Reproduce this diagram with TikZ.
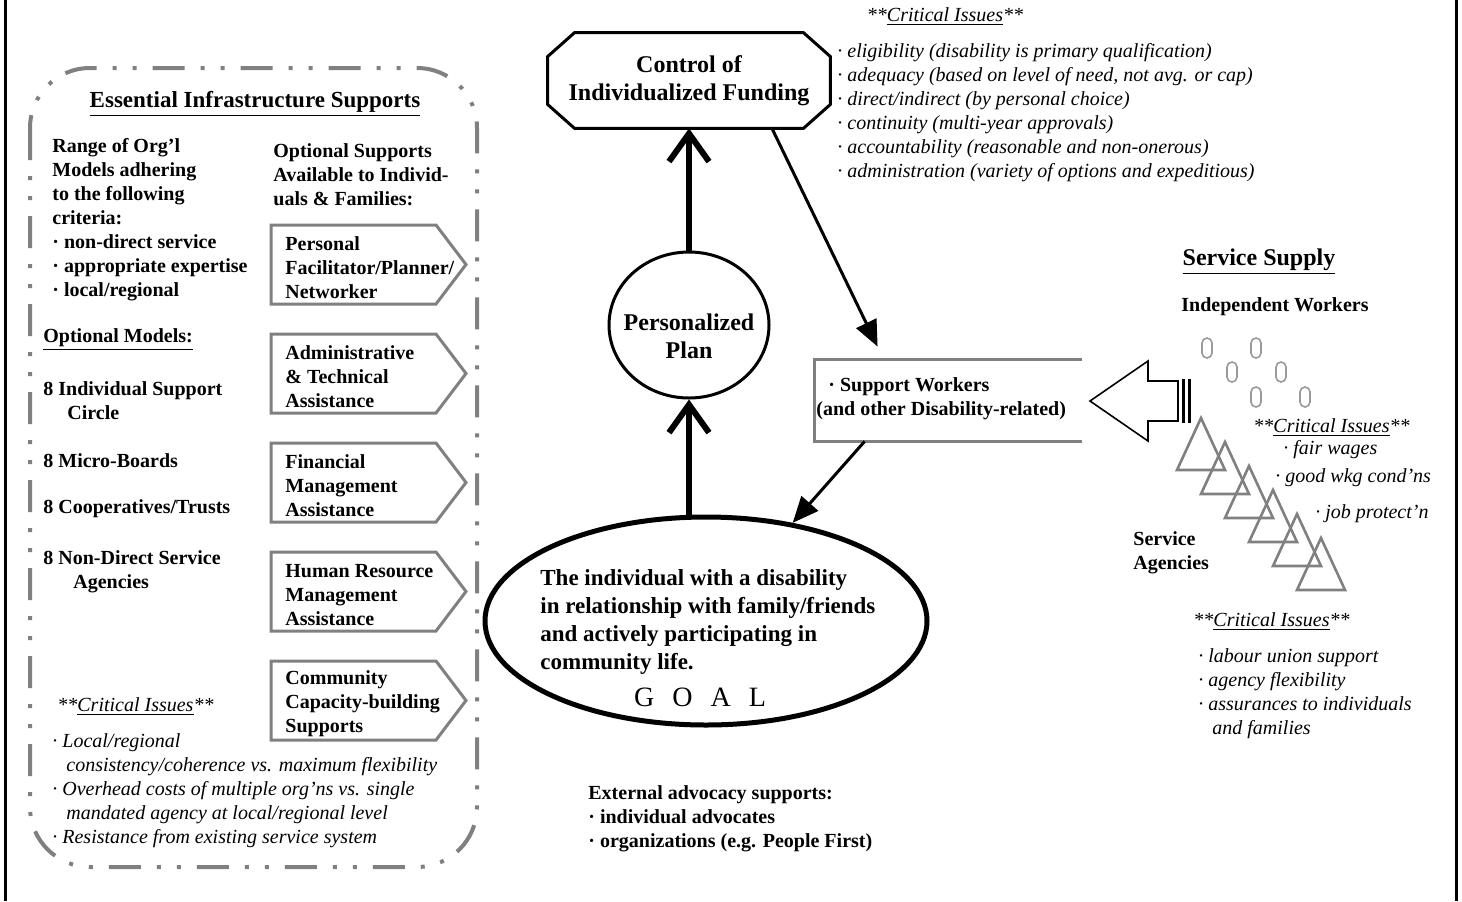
\documentclass[tikz,border=0pt]{standalone}
\usepackage{fontspec}
\setmainfont{Liberation Serif}
\usetikzlibrary{shapes.geometric,arrows.meta}

\begin{document}
\begin{tikzpicture}[x=0.5pt, y=-0.5pt,
    txt/.style={anchor=north west, inner sep=0pt, align=left, font=\fontsize{10}{12}\selectfont\bfseries},
    lbl/.style={anchor=west, inner sep=0pt, font=\fontsize{10}{12}\selectfont\bfseries},
    crit/.style={anchor=north west, inner sep=0pt, align=left, font=\fontsize{10}{12}\selectfont\itshape},
    cihd/.style={anchor=west, inner sep=0pt, font=\fontsize{10}{12}\selectfont\itshape},
    head/.style={inner sep=0pt, font=\fontsize{12}{14}\selectfont\bfseries},
    tab/.style={draw=gray, line width=1.5pt, line join=miter},
    wk/.style={draw=gray!80, line width=0.8pt, rounded corners=2.5pt},
    fatlink/.style={line width=3pt, -{Straight Barb[length=14pt,width=20pt]}},
    link/.style={line width=1.5pt, -{Triangle[length=13pt,width=11pt]}}]
    \useasboundingbox (0,0) rectangle (1462,901);
    \draw[line width=1.5pt] (5,0) -- (5,901) (1456,0) -- (1456,901);

    % infrastructure supports
    \draw[gray, line width=2pt, rounded corners=30pt,
        dash pattern=on 16pt off 8pt on 2pt off 8pt on 2pt off 8pt] (30,68) rectangle (477,867);
    \node[head, font=\fontsize{11.5}{14}\selectfont\bfseries] (ess) at (255,104) {\underline{Essential Infrastructure Supports}};
    \node[txt] (range) at (52,138) {Range of Org'l\\Models adhering\\to the following\\criteria:\\· non-direct service\\· appropriate expertise\\· local/regional};
    \node[lbl] (optm) at (43,340) {\underline{Optional Models:}};
    \node[txt] (isc) at (43,381) {8 Individual Support\\\hspace*{12pt}Circle};
    \node[lbl] (mb) at (43,461) {8 Micro-Boards};
    \node[lbl] (coop) at (43,509) {8 Cooperatives/Trusts};
    \node[txt] (nds) at (43,550) {8 Non-Direct Service\\\hspace*{15pt}Agencies};
    \node[txt] (opts) at (273,143) {Optional Supports\\Available to Individ-\\uals \& Families:};
    \foreach \ty/\name/\lines in {225/sfac/{Personal\\Facilitator/Planner/\\Networker},
        334/sadm/{Administrative\\\& Technical\\Assistance}, 443/sfin/{Financial\\Management\\Assistance},
        552/shr/{Human Resource\\Management\\Assistance}, 661/scom/{Community\\Capacity-building\\Supports}} {
        \draw[tab] (271,\ty) -- (436,\ty) -- (466,\ty+39.5) -- (436,\ty+79) -- (271,\ty+79) -- cycle;
        \node[txt, anchor=west] (\name) at (285,\ty+43) {\lines};
    }
    \node[cihd] (ci1) at (57,707) {**\underline{Critical Issues}**};
    \node[crit] (infci) at (52,733) {· Local/regional\\\hspace*{7pt}consistency/coherence vs. maximum flexibility\\· Overhead costs of multiple org'ns vs. single\\\hspace*{7pt}mandated agency at local/regional level\\· Resistance from existing service system};

    % funding, plan and goal
    \node[head, minimum width=141pt, minimum height=47.5pt, align=center] (fund) at (689,80.5) {Control of\\Individualized Funding};
    \draw[line width=1.5pt, line join=miter] ([xshift=13.5pt]fund.north west) -- ([xshift=-13.5pt]fund.north east)
        -- ([yshift=-12pt]fund.north east) -- ([yshift=12pt]fund.south east) -- ([xshift=-13.5pt]fund.south east)
        -- ([xshift=13.5pt]fund.south west) -- ([yshift=12pt]fund.south west) -- ([yshift=-12pt]fund.north west) -- cycle;
    \node[cihd, anchor=center] (ci2) at (945,17) {**\underline{Critical Issues}**};
    \node[crit] (fundci) at (837,43) {· eligibility (disability is primary qualification)\\· adequacy (based on level of need, not avg. or cap)\\· direct/indirect (by personal choice)\\· continuity (multi-year approvals)\\· accountability (reasonable and non-onerous)\\· administration (variety of options and expeditious)};

    \node[ellipse, draw, line width=1.5pt, minimum width=80pt, minimum height=73pt, inner sep=0pt] (plan) at (689,325) {};
    \node[head, align=center] (plantxt) at (689,336) {Personalized\\Plan};

    \node[ellipse, draw, line width=2.5pt, minimum width=221pt, minimum height=104pt, inner sep=0pt] (goal) at (706,621) {};
    \node[txt, font=\fontsize{11.5}{14}\selectfont\bfseries] (goaltxt) at (540,569) {The individual with a disability\\in relationship with family/friends\\and actively participating in\\community life.};
    \node[inner sep=0pt, font=\fontsize{14}{16}\selectfont] (goalword) at (700,697) {\spaceskip=9pt G O A L};

    \node[txt] (adv) at (588,785) {External advocacy supports:\\· individual advocates\\· organizations (e.g. People First)};

    % support workers
    \node[minimum width=133.5pt, minimum height=40.5pt, inner sep=0pt] (supp) at (948.5,400.5) {};
    \draw[tab] (supp.north east) -- (supp.north west) -- (supp.south west) -- (supp.south east);
    \node[txt, anchor=west] (supptxt) at (816,399) {\hspace*{6pt}· Support Workers\\(and other Disability-related)};

    \draw[fatlink] (plan.north) -- (fund.south);
    \draw[fatlink] (goal.north -| plan.south) -- (plan.south);
    \draw[link] (fund.-30) -- ([xshift=31.5pt,yshift=6.5pt]supp.north west);
    \draw[link] ([xshift=25pt]supp.south west) -- (goal);

    % service supply
    \draw[line width=0.8pt, line join=miter] (1090,401) -- (1148,361) -- (1148,381) -- (1178,381)
        -- (1178,421) -- (1148,421) -- (1148,441) -- cycle;
    \draw[line width=1.5pt] (1183,379) -- (1183,423) (1189,379) -- (1189,423);
    \node[head] (supply) at (1259,262) {\underline{Service Supply}};
    \node[lbl, anchor=center] (indw) at (1275,307) {Independent Workers};
    \foreach \x/\y in {1207/348,1256/348,1232/372,1281/372,1256/397,1305/397}
        \draw[wk] (\x-5,\y-10) rectangle (\x+5,\y+10);
    \foreach \i in {0,...,5}
        \draw[gray, line width=1.3pt] (1201+24*\i,418+24*\i) -- ++(24,52) -- ++(-48,0) -- cycle;
    \node[cihd] (ci3) at (1253,428) {**\underline{Critical Issues}**};
    \node[cihd] (fw) at (1283,450) {· fair wages};
    \node[cihd] (gw) at (1275,478) {· good wkg cond'ns};
    \node[cihd] (jp) at (1315,514) {· job protect'n};
    \node[txt] (agn) at (1133,531) {Service\\Agencies};
    \node[cihd] (ci4) at (1193,622) {**\underline{Critical Issues}**};
    \node[crit] (agci) at (1198,648) {· labour union support\\· agency flexibility\\· assurances to individuals\\\hspace*{7pt}and families};
\end{tikzpicture}
\end{document}
